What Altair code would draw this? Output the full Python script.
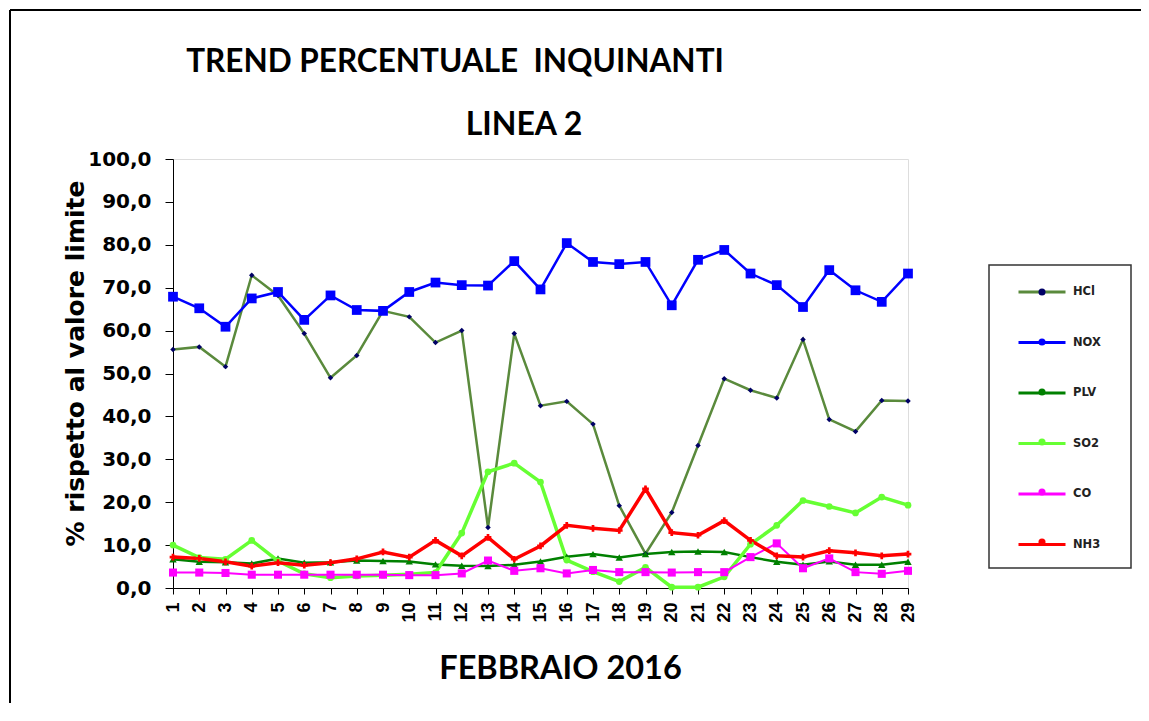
import altair as alt
import pandas as pd

days = list(range(1, 30))
series_names = ["HCl", "NOX", "PLV", "SO2", "CO", "NH3"]

hcl = [55.6, 56.2, 51.6, 72.9, 68.2, 59.3, 49.0, 54.2, 64.6, 63.2, 57.2, 60.0, 14.1, 59.3,
       42.5, 43.5, 38.2, 19.2, 8.0, 17.6, 33.2, 48.8, 46.1, 44.3, 57.9, 39.3, 36.5, 43.7, 43.6]
nox = [67.9, 65.2, 60.9, 67.5, 69.0, 62.5, 68.2, 64.8, 64.6, 69.0, 71.2, 70.6, 70.5, 76.2,
       69.6, 80.4, 76.0, 75.5, 76.0, 65.9, 76.5, 78.8, 73.3, 70.6, 65.5, 74.1, 69.4, 66.7, 73.3]
plv = [6.7, 6.1, 6.0, 5.7, 6.9, 5.9, 6.0, 6.4, 6.3, 6.2, 5.5, 5.2, 5.1, 5.4, 6.2, 7.3, 7.9,
       7.1, 7.9, 8.4, 8.5, 8.4, 7.2, 6.1, 5.4, 6.2, 5.4, 5.4, 6.1]
so2 = [10.0, 7.1, 6.7, 11.1, 6.3, 3.3, 2.4, 2.8, 3.0, 3.2, 3.6, 12.8, 27.1, 29.1, 24.7, 6.5,
       3.8, 1.5, 4.8, 0.2, 0.2, 2.6, 10.2, 14.6, 20.4, 19.0, 17.5, 21.2, 19.3]
co = [3.6, 3.6, 3.5, 3.1, 3.1, 3.1, 3.1, 3.1, 3.1, 3.0, 3.0, 3.4, 6.4, 4.0, 4.6, 3.4, 4.2,
      3.7, 3.7, 3.6, 3.7, 3.7, 7.2, 10.4, 4.6, 6.9, 3.7, 3.3, 4.0]
nh3 = [7.2, 6.9, 6.1, 5.1, 5.9, 5.3, 5.9, 6.8, 8.4, 7.2, 11.1, 7.5, 11.8, 6.7, 9.8, 14.6,
       13.9, 13.4, 23.1, 12.9, 12.3, 15.7, 11.1, 7.5, 7.2, 8.7, 8.2, 7.5, 7.9]

y_ticks = [0, 10, 20, 30, 40, 50, 60, 70, 80, 90, 100]

line_colors = ["#5A8A3C", "#0000FF", "#008000", "#66FF33", "#FF00FF", "#FF0000"]
marker_colors = ["#000066", "#0000FF", "#008000", "#66FF33", "#FF00FF", "#FF0000"]
line_widths = [2.5, 2.5, 2.5, 3.5, 2, 3.5]
marker_shapes = ["diamond", "square", "triangle-up", "circle", "square", "cross"]
marker_sizes = [30, 95, 55, 45, 65, 45]

rows = []
for name, vals in zip(series_names, [hcl, nox, plv, so2, co, nh3]):
    for d, v in zip(days, vals):
        rows.append({"day": d, "value": v, "series": name, "series_m": name, "series_w": name})
df = pd.DataFrame(rows)

W, H = 735, 429

x_enc = alt.X("day:O", scale=alt.Scale(paddingOuter=0, padding=0),
              axis=alt.Axis(title="FEBBRAIO 2016", labelAngle=-90, labelFont="Liberation Sans",
                            labelFontWeight="bold", labelFontSize=18, labelColor="black",
                            labelPadding=8, tickSize=6, tickColor="black", domainColor="black",
                            titleFont="Lato", titleFontSize=32.5, titleFontWeight="bold",
                            titleColor="black", titleX=387, titleY=80, titleBaseline="middle",
                            titleAlign="center"))
y_enc = alt.Y("value:Q", scale=alt.Scale(domain=[0, 100], nice=False),
              axis=alt.Axis(title="% rispetto al valore limite", values=y_ticks,
                            labelExpr="replace(format(datum.value, '.1f'), '.', ',')",
                            labelFont="DejaVu Sans", labelFontWeight="bold", labelFontSize=20,
                            labelColor="black", labelPadding=14, tickSize=8, tickColor="black",
                            domainColor="black", grid=False,
                            titleFont="DejaVu Sans", titleFontSize=25, titleFontWeight="bold",
                            titleColor="black", titleX=-98, titleY=204, titleAngle=-90,
                            titleBaseline="middle", titleAlign="center"))

base = alt.Chart(df)

lines = base.mark_line().encode(
    x=x_enc, y=y_enc,
    stroke=alt.Stroke("series:N", scale=alt.Scale(domain=series_names, range=line_colors),
                      legend=alt.Legend(title=None, orient="none", legendX=844, legendY=108,
                                        symbolType="stroke", symbolSize=2209,
                                        symbolStrokeWidth=3, padding=0, rowPadding=19.5,
                                        labelOffset=6, labelFont="DejaVu Sans",
                                        labelFontWeight="bold", labelFontSize=11.5,
                                        labelColor="#222222", gridAlign="all")),
    strokeWidth=alt.StrokeWidth("series_w:N", scale=alt.Scale(type="ordinal", domain=series_names,
                                                               range=line_widths), legend=None),
)

marker_legend = alt.Legend(
    title=None, orient="none", legendX=863, legendY=127, padding=0, rowPadding=38,
    labelExpr="''", labelFontSize=12, labelOffset=5, gridAlign="all", symbolSize=50)
points = base.mark_point(filled=True, opacity=1).encode(
    x="day:O", y="value:Q",
    color=alt.Color("series_m:N", scale=alt.Scale(domain=series_names, range=marker_colors),
                    legend=marker_legend),
    shape=alt.Shape("series_m:N", scale=alt.Scale(domain=series_names, range=marker_shapes),
                    legend=None),
    size=alt.Size("series_m:N", scale=alt.Scale(type="ordinal", domain=series_names,
                                                 range=marker_sizes), legend=None),
)

one = pd.DataFrame({"t": ["TREND PERCENTUALE\u00a0 INQUINANTI"]})
two = pd.DataFrame({"t": ["LINEA 2"]})
title1 = alt.Chart(one).mark_text(font="Lato", fontSize=31.5, fontWeight="bold", color="black",
                                  align="center", baseline="middle").encode(
    text="t:N", x=alt.value(282), y=alt.value(-96))
title2 = alt.Chart(two).mark_text(font="Lato", fontSize=32, fontWeight="bold", color="black",
                                  align="center", baseline="middle").encode(
    text="t:N", x=alt.value(351), y=alt.value(-34))

frame_df = pd.DataFrame({"k": [0]})
frame_top = alt.Chart(frame_df).mark_rule(color="black", strokeWidth=2).encode(
    x=alt.value(-163), x2=alt.value(1000), y=alt.value(-149))
frame_left = alt.Chart(frame_df).mark_rule(color="black", strokeWidth=2).encode(
    x=alt.value(-163), y=alt.value(-149), y2=alt.value(600))
legend_box = alt.Chart(frame_df).mark_rect(fillOpacity=0, stroke="#333333", strokeWidth=1.5).encode(
    x=alt.value(816), x2=alt.value(958), y=alt.value(106), y2=alt.value(409))

chart = alt.layer(frame_top, frame_left, legend_box, lines, points, title1, title2).properties(
    width=W, height=H,
    autosize=alt.AutoSizeParams(type="none"),
    padding={"left": 165, "top": 151, "right": 233, "bottom": 115},
).resolve_legend(stroke="independent", color="independent").configure_view(
    stroke="black", strokeWidth=1).configure(background="white")

chart.save("out.html", embed_options={"renderer": "svg", "actions": False})
